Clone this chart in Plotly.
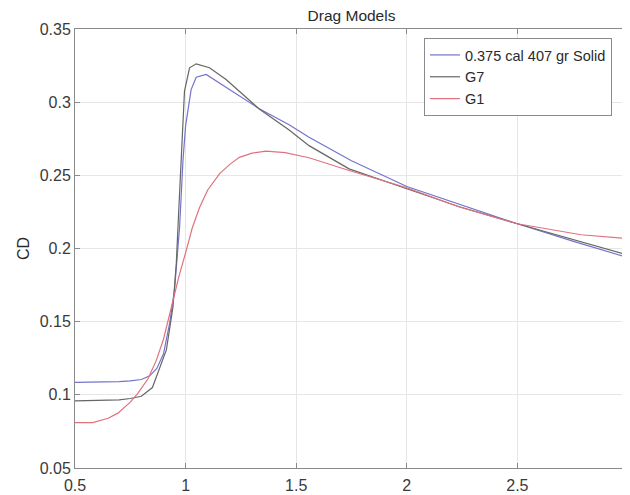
import plotly.graph_objects as go

# ---- data ----
mach_solid = [0.5, 0.6, 0.7, 0.75, 0.8, 0.838, 0.87, 0.9, 0.928, 0.95, 0.973, 0.988, 1.0,
              1.025, 1.048, 1.093, 1.15, 1.2, 1.333, 1.468, 1.558, 1.75, 2.0, 2.25, 2.5, 2.75, 3.0]
cd_solid = [0.1085, 0.1085, 0.109, 0.1095, 0.1105, 0.113, 0.118, 0.128, 0.149, 0.172, 0.215, 0.26, 0.284,
            0.3086, 0.317, 0.3189, 0.3135, 0.3085, 0.2955, 0.2846, 0.276, 0.260, 0.2424, 0.2295, 0.2169, 0.205, 0.1938]

mach_g7 = [0.5, 0.6, 0.7, 0.75, 0.8, 0.85, 0.883, 0.913, 0.943, 0.958, 0.97, 0.985, 0.995, 1.018,
           1.048, 1.108, 1.183, 1.333, 1.468, 1.558, 1.739, 2.0, 2.234, 2.5, 2.75, 3.0]
cd_g7 = [0.0959, 0.096, 0.0965, 0.0975, 0.099, 0.105, 0.1186, 0.1307, 0.160, 0.19, 0.229, 0.275, 0.3075, 0.3235,
         0.3262, 0.3235, 0.3155, 0.2953, 0.281, 0.2703, 0.2544, 0.2408, 0.2287, 0.2169, 0.2062, 0.1955]

mach_g1 = [0.5, 0.58, 0.65, 0.694, 0.75, 0.784, 0.83, 0.868, 0.9, 0.943, 0.97, 1.003, 1.03, 1.063,
           1.1, 1.153, 1.2, 1.243, 1.3, 1.363, 1.45, 1.558, 1.739, 2.0, 2.234, 2.5, 2.788, 3.0]
cd_g1 = [0.081, 0.081, 0.084, 0.0875, 0.095, 0.101, 0.111, 0.1237, 0.138, 0.1646, 0.181, 0.1987, 0.214, 0.228,
         0.240, 0.251, 0.2575, 0.2623, 0.2652, 0.2665, 0.2655, 0.262, 0.2533, 0.2415, 0.2285, 0.2169, 0.2094, 0.2067]

x_ticks = [0.5, 1, 1.5, 2, 2.5, 3]
x_tick_labels = ["0.5", "1", "1.5", "2", "2.5", "3"]
y_ticks = [0.05, 0.1, 0.15, 0.2, 0.25, 0.3, 0.35]
y_tick_labels = ["0.05", "0.1", "0.15", "0.2", "0.25", "0.3", "0.35"]

FONT = "Liberation Sans, Arial, sans-serif"

fig = go.Figure()
fig.add_trace(go.Scatter(x=mach_solid, y=cd_solid, mode="lines", name="0.375 cal 407 gr Solid",
                         line=dict(color="#7373cc", width=1.2)))
fig.add_trace(go.Scatter(x=mach_g7, y=cd_g7, mode="lines", name="G7",
                         line=dict(color="#666666", width=1.2)))
fig.add_trace(go.Scatter(x=mach_g1, y=cd_g1, mode="lines", name="G1",
                         line=dict(color="#e0727e", width=1.2)))

axis_common = dict(showline=True, linecolor="#8a8a8a", linewidth=1, mirror="ticks",
                   ticks="inside", ticklen=5, tickcolor="#8a8a8a",
                   showgrid=True, gridcolor="#e6e6e6", gridwidth=1, zeroline=False,
                   tickfont=dict(family=FONT, size=16, color="#3a3a3a"), automargin=False)

fig.update_layout(
    width=630, height=495,
    margin=dict(l=67, r=10, t=21, b=35),
    paper_bgcolor="white", plot_bgcolor="white",
    font=dict(family=FONT, color="#333333"),
    title=dict(text="Drag Models", x=0.5, xref="paper", xanchor="center",
               y=1 - 8 / 495, yref="container", yanchor="middle",
               font=dict(family=FONT, size=15.5, color="#2a2a2a")),
    xaxis=dict(range=[0.5, 3], tickvals=x_ticks, ticktext=x_tick_labels,
               ticklabeloverflow="allow", ticklabelstandoff=3, **axis_common),
    yaxis=dict(range=[0.05, 0.35], tickvals=y_ticks, ticktext=y_tick_labels,
               title=dict(text="CD", font=dict(family=FONT, size=16, color="#2a2a2a"), standoff=6),
               **axis_common),
    legend=dict(x=0.631, y=0.9795, xanchor="left", yanchor="top",
                bgcolor="white", bordercolor="#8a8a8a", borderwidth=1,
                font=dict(family=FONT, size=14.5, color="#2a2a2a"),
                tracegroupgap=0, itemwidth=30),
    showlegend=True,
)

fig.write_html("out.html")
